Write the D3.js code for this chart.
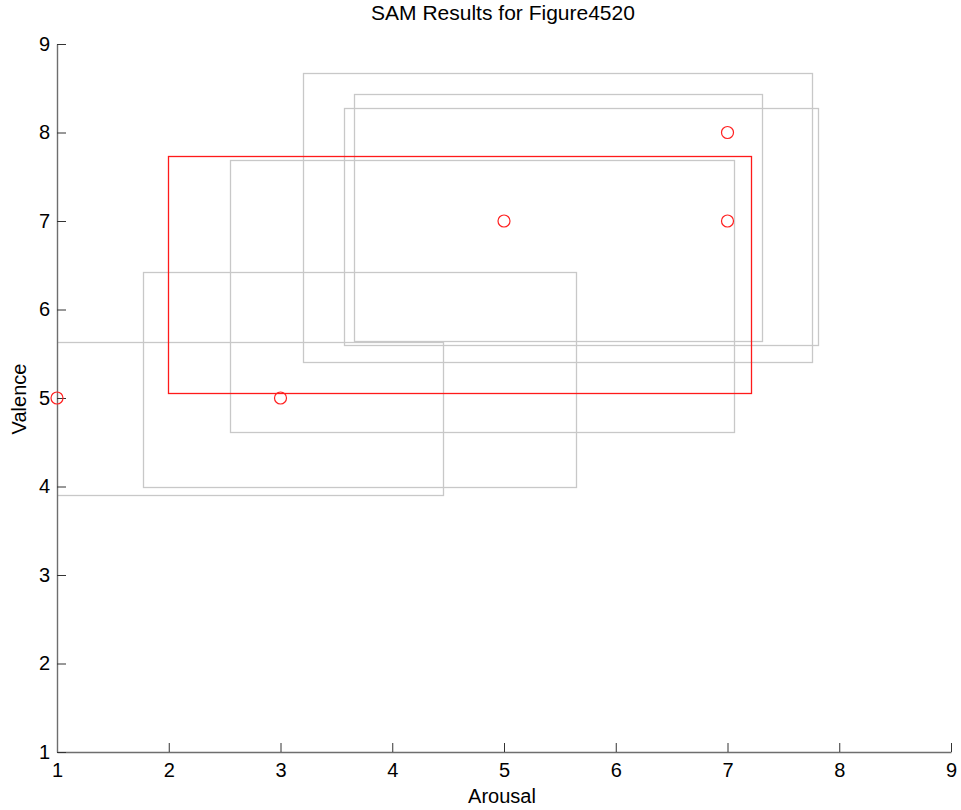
<!DOCTYPE html>
<html>
<head>
<meta charset="utf-8">
<script src="https://cdn.jsdelivr.net/npm/d3@7"></script>
<style>
  html, body { margin: 0; padding: 0; background: #fff; }
  svg { display: block; }
  text { font-family: Arial, "Liberation Sans", Helvetica, sans-serif; fill: #000; }
</style>
</head>
<body>
<svg id="chart" width="961" height="810"></svg>
<script>
// ---- Data ----
const titleText = "SAM Results for Figure4520";
const xLabel = "Arousal";
const yLabel = "Valence";
const xTicks = [1, 2, 3, 4, 5, 6, 7, 8, 9];
const yTicks = [1, 2, 3, 4, 5, 6, 7, 8, 9];

// individual responses (red circles)
const pointArousal = [1, 3, 5, 7, 7];
const pointValence = [5, 5, 7, 7, 8];

// red rectangle (this figure's spread)
const redXMin = [1.99];
const redXMax = [7.21];
const redYMin = [5.06];
const redYMax = [7.74];

// gray rectangles (other figures)
const grayXMin = [3.20, 3.66, 3.57, 2.55, 1.77, 0.90];
const grayXMax = [7.76, 7.31, 7.81, 7.06, 5.64, 4.45];
const grayYMin = [5.41, 5.64, 5.60, 4.62, 4.00, 3.90];
const grayYMax = [8.67, 8.43, 8.28, 7.69, 6.42, 5.63];

// ---- Layout ----
const svg = d3.select("#chart");
const x = d3.scaleLinear().domain([1, 9]).range([57, 951]);
const y = d3.scaleLinear().domain([1, 9]).range([752, 44]);
const px = v => Math.round(x(v)) + 0.5;
const py = v => Math.round(y(v)) + 0.5;

svg.append("defs").append("clipPath").attr("id", "plotclip")
  .append("rect").attr("x", 57).attr("y", 44).attr("width", 894).attr("height", 708);

const plot = svg.append("g").attr("clip-path", "url(#plotclip)");

const grayRects = grayXMin.map((d, i) => ({x0: d, x1: grayXMax[i], y0: grayYMin[i], y1: grayYMax[i]}));
plot.selectAll("rect.gray").data(grayRects).enter().append("rect")
  .attr("class", "gray")
  .attr("x", d => px(d.x0))
  .attr("y", d => py(d.y1))
  .attr("width", d => px(d.x1) - px(d.x0))
  .attr("height", d => py(d.y0) - py(d.y1))
  .attr("fill", "none")
  .attr("stroke", "#c8c8c8")
  .attr("stroke-width", 1.3);

const redRects = redXMin.map((d, i) => ({x0: d, x1: redXMax[i], y0: redYMin[i], y1: redYMax[i]}));
plot.selectAll("rect.red").data(redRects).enter().append("rect")
  .attr("class", "red")
  .attr("x", d => px(d.x0))
  .attr("y", d => py(d.y1))
  .attr("width", d => px(d.x1) - px(d.x0))
  .attr("height", d => py(d.y0) - py(d.y1))
  .attr("fill", "none")
  .attr("stroke", "#ff1a1a")
  .attr("stroke-width", 1.3);

// ---- Axes ----
const xAxis = d3.axisBottom(x).tickValues(xTicks).tickSizeInner(-9).tickSizeOuter(0).tickPadding(11);
const yAxis = d3.axisLeft(y).tickValues(yTicks).tickSizeInner(-9).tickSizeOuter(0).tickPadding(7);

const gx = svg.append("g").attr("transform", "translate(0,752)").call(xAxis);
const gy = svg.append("g").attr("transform", "translate(57,0)").call(yAxis);

[gx, gy].forEach(g => {
  g.select(".domain").attr("stroke", "#6e6e6e").attr("stroke-width", 1.4);
  g.selectAll(".tick line").attr("stroke", "#333").attr("stroke-width", 1);
  g.selectAll(".tick text").attr("font-size", 20).attr("fill", "#000")
    .attr("font-family", "Arial, 'Liberation Sans', sans-serif");
});
gx.selectAll(".tick text").attr("dy", "0.71em");

// ---- Points ----
const pts = pointArousal.map((d, i) => ({a: d, v: pointValence[i]}));
svg.append("g").selectAll("circle").data(pts).enter().append("circle")
  .attr("cx", d => x(d.a))
  .attr("cy", d => y(d.v))
  .attr("r", 6)
  .attr("fill", "none")
  .attr("stroke", "#ff2020")
  .attr("stroke-width", 1.2);

// ---- Labels ----
svg.append("text").attr("x", 503).attr("y", 20).attr("text-anchor", "middle")
  .attr("font-size", 21).text(titleText);
svg.append("text").attr("x", 502).attr("y", 803).attr("text-anchor", "middle")
  .attr("font-size", 20).text(xLabel);
svg.append("text").attr("transform", "translate(26,399) rotate(-90)").attr("text-anchor", "middle")
  .attr("font-size", 20).text(yLabel);
</script>
</body>
</html>
